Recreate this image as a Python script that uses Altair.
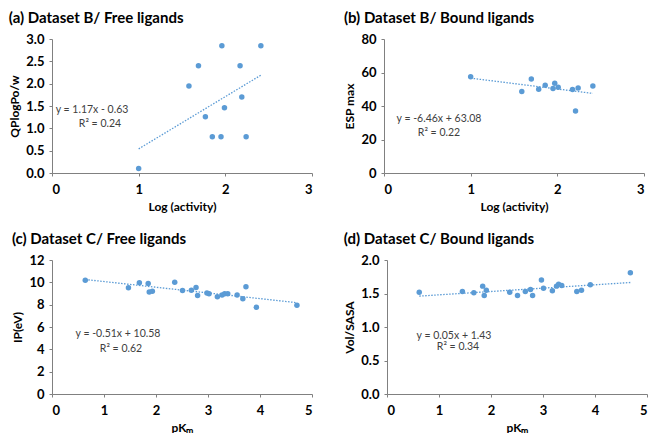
import altair as alt
import pandas as pd

FONT = "Lato"
BLUE = "#5B9BD5"

# Panel (a) / (b): Dataset B, Log (activity)
b_log_activity = [1.00, 1.58, 1.69, 1.77, 1.85, 1.95, 1.96, 1.99, 2.17, 2.19, 2.24, 2.41]
b_free_qplogpo = [0.10, 1.95, 2.40, 1.26, 0.81, 0.81, 2.85, 1.46, 2.40, 1.70, 0.81, 2.85]
b_x_bound = [1.00, 1.59, 1.70, 1.785, 1.86, 1.95, 1.97, 2.01, 2.175, 2.21, 2.24, 2.41]
b_bound_esp = [57.5, 48.6, 56.1, 50.0, 52.4, 50.4, 53.6, 51.2, 49.8, 37.0, 50.8, 52.0]

# Panel (c): Dataset C free ligands
c_free_pkm = [0.64, 1.47, 1.68, 1.85, 1.87, 1.93, 2.36, 2.51, 2.68, 2.77, 2.80,
              2.98, 3.02, 3.18, 3.27, 3.32, 3.38, 3.56, 3.67, 3.73, 3.93, 4.71]
c_free_ip = [10.19, 9.51, 9.96, 9.90, 9.13, 9.21, 10.01, 9.27, 9.30, 9.54, 8.83,
             9.04, 8.98, 8.71, 8.86, 8.98, 8.98, 8.86, 8.53, 9.60, 7.76, 7.94]

# Panel (d): Dataset C bound ligands
c_bound_pkm = [0.62, 1.45, 1.67, 1.84, 1.87, 1.91, 2.36, 2.51, 2.66, 2.76, 2.80,
               2.97, 3.01, 3.18, 3.26, 3.30, 3.36, 3.65, 3.74, 3.91, 4.68]
c_bound_vol = [1.52, 1.53, 1.51, 1.61, 1.47, 1.55, 1.52, 1.47, 1.53, 1.56, 1.47,
               1.70, 1.58, 1.54, 1.61, 1.64, 1.62, 1.53, 1.55, 1.63, 1.81]

# trendline coefficients (slope, intercept) and labels
coef_a = (1.17, -0.63)
coef_b = (-6.46, 63.08)
coef_c = (-0.51, 10.58)
coef_d = (0.05, 1.43)
eq_a = ["y = 1.17x - 0.63", "R² = 0.24"]
eq_b = ["y = -6.46x + 63.08", "R² = 0.22"]
eq_c = ["y = -0.51x + 10.58", "R² = 0.62"]
eq_d = ["y = 0.05x + 1.43", "R² = 0.34"]

W, H = 260, 134


def panel(title, xs, ys, coef, eq, eq_pos, xtitle, ytitle, xmax, ymax, ystep, yfmt):
    df = pd.DataFrame({"x": xs, "y": ys})
    x0, x1 = min(xs), max(xs)
    line_df = pd.DataFrame({"x": [x0, x1], "y": [coef[0] * x0 + coef[1], coef[0] * x1 + coef[1]]})
    yticks = [round(i * ystep, 4) for i in range(int(round(ymax / ystep)) + 1)]
    xticks = list(range(0, xmax + 1))
    xscale = alt.Scale(domain=[0, xmax], nice=False)
    yscale = alt.Scale(domain=[0, ymax], nice=False)
    xaxis = alt.Axis(values=xticks, format="d", title=xtitle, grid=False, labelOverlap=False)
    yaxis = alt.Axis(values=yticks, format=yfmt, title=ytitle, grid=False, labelOverlap=False)
    pts = alt.Chart(df).mark_circle(size=30, color=BLUE, opacity=1).encode(
        x=alt.X("x:Q", scale=xscale, axis=xaxis),
        y=alt.Y("y:Q", scale=yscale, axis=yaxis),
    )
    ln = alt.Chart(line_df).mark_line(color=BLUE, strokeWidth=1.3, strokeDash=[1.5, 1.5]).encode(
        x=alt.X("x:Q", scale=xscale, axis=xaxis),
        y=alt.Y("y:Q", scale=yscale, axis=yaxis),
    )
    tdf = pd.DataFrame({"t": eq, "px": [eq_pos[0][0], eq_pos[1][0]], "py": [eq_pos[0][1], eq_pos[1][1]]})
    txt = alt.Chart(tdf).mark_text(font=FONT, fontSize=10.5, color="#404040", align="center", baseline="middle").encode(
        text="t:N",
        x=alt.X("px:Q", scale=None),
        y=alt.Y("py:Q", scale=None),
    )
    return alt.layer(ln, pts, txt).properties(
        width=W, height=H,
        title=alt.TitleParams(title, anchor="start", frame="bounds", font=FONT, fontSize=15,
                              fontWeight="bold", color="black", offset=7),
    )


pa = panel("(a) Dataset B/  Free ligands", b_log_activity, b_free_qplogpo, coef_a, eq_a,
           [(40, 71), (48, 85)], "Log (activity)", "QPlogPo/w", 3, 3.0, 0.5, ".1f")
pb = panel("(b) Dataset B/ Bound ligands", b_x_bound, b_bound_esp, coef_b, eq_b,
           [(55, 80), (55, 94)], "Log (activity)", "ESP max", 3, 80, 20, "d")
pc = panel("(c) Dataset C/ Free ligands", c_free_pkm, c_free_ip, coef_c, eq_c,
           [(66, 74), (69, 89)], "pKₘ", "IP(eV)", 5, 12, 2, "d")
pd_ = panel("(d) Dataset C/ Bound ligands", c_bound_pkm, c_bound_vol, coef_d, eq_d,
            [(67, 76), (71, 87)], "pKₘ", "Vol/SASA", 5, 2.0, 0.5, ".1f")

chart = alt.vconcat(
    alt.hconcat(pa, pb, spacing=30),
    alt.hconcat(pc, pd_, spacing=30),
    spacing=20,
).properties(padding={"left": 0, "top": 3, "right": 0, "bottom": 0}).configure_view(
    stroke=None
).configure_axis(
    domainColor="#808080", tickColor="#808080", tickSize=3, domainWidth=1,
    labelFont=FONT, labelFontSize=13, labelFontWeight="bold", labelColor="black",
    titleFont=FONT, titleFontSize=12, titleFontWeight="bold", titleColor="black",
).configure_axisX(labelPadding=7, titlePadding=5).configure_axisY(labelPadding=5, titlePadding=4)

chart.save("out.html", embed_options={"renderer": "svg", "actions": False})
